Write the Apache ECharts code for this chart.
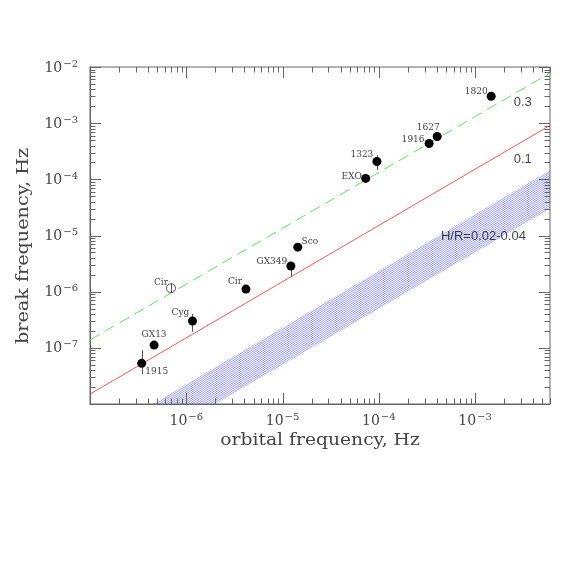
<!DOCTYPE html>
<html><head><meta charset="utf-8">
<script src="https://cdn.jsdelivr.net/npm/echarts@6/dist/echarts.min.js"></script>
<style>html,body{margin:0;padding:0;background:#fff}#c{width:581px;height:581px}</style>
</head><body><div id="c"></div>
<script>
// ---------- data ----------
const sourceNames  = ['1915', 'GX13', 'Cyg', 'Cir', 'GX349', 'Sco', 'EXO', '1323', '1916', '1627', '1820'];
const orbitalFreq  = [3.44e-7, 4.63e-7, 1.16e-6, 4.17e-6, 1.22e-5, 1.44e-5, 7.3e-5, 9.55e-5, 3.33e-4, 4.04e-4, 1.47e-3];
const breakFreq    = [5.3e-8, 1.12e-7, 3.0e-7, 1.11e-6, 2.86e-6, 6.2e-6, 1.04e-4, 2.08e-4, 4.35e-4, 5.8e-4, 3.02e-3];

const openNames    = ['Cir'];
const openOrbital  = [6.94e-7];
const openBreak    = [1.15e-6];

const errOrbital   = [3.44e-7, 1.16e-6, 1.22e-5, 9.55e-5, 6.94e-7];
const errLow       = [3.4e-8, 1.94e-7, 1.84e-6, 1.46e-4, 0.95e-6];
const errHigh      = [9.1e-8, 4.0e-7, 2.86e-6, 2.7e-4, 1.4e-6];

const hr03X = [1e-7, 6e-3];   const hr03Y = [1.38e-7, 7.8e-3];
const hr01X = [1e-7, 6e-3];   const hr01Y = [1.5e-8, 9.1e-4];
const bandX = [4.5e-7, 6e-3, 6e-3, 2e-6];
const bandY = [1e-8, 1.45e-4, 3e-5, 1e-8];

const annoText = ['0.3', '0.1', 'H/R=0.02-0.04'];
const annoX    = [3.13e-3, 3.13e-3, 1.22e-3];
const annoY    = [2.37e-3, 2.29e-4, 9.5e-6];

const xTitle = 'orbital frequency, Hz';
const yTitle = 'break frequency, Hz';

const xMin = 1e-7, xMax = 6e-3, yMin = 1e-8, yMax = 1e-2;
const xTickExps = [-7, -6, -5, -4, -3];
const yTickExps = [-8, -7, -6, -5, -4, -3, -2];
const xLabelExps = [-6, -5, -4, -3];
const yLabelExps = [-7, -6, -5, -4, -3, -2];
const minorMult = [2, 3, 4, 5, 6, 7, 8, 9];

// ---------- styling ----------
const labelOffsets = {
  '1915': [15, 8], 'GX13': [0, -10], 'Cyg': [-12, -8], 'Cir': [-11, -7], 'GX349': [-19, -4],
  'Sco': [12, -6], 'EXO': [-14, -2], '1323': [-15, -7], '1916': [-16, -4], '1627': [-9, -9], '1820': [-15, -5]
};
const openOffsets = [[-10, -6]];
const AX = '#666', TXT = '#444';
const SERIF = 'DejaVu Serif';

function expOf(v) { const e = Math.round(Math.log10(v)); return Math.abs(Math.log10(v) - e) < 1e-6 ? e : null; }
function labelFmt(allowed) {
  return function (v) {
    const e = expOf(v);
    if (e === null || allowed.indexOf(e) < 0) return '';
    return '{b|10}{s|\u2212' + Math.abs(e) + '}';
  };
}
const rich = {
  b: { fontSize: 14, fontFamily: SERIF, color: TXT, verticalAlign: 'bottom' },
  s: { fontSize: 10, fontFamily: SERIF, color: TXT, verticalAlign: 'bottom', padding: [0, 0, 6, 1] }
};

// hatch pattern
function makeHatch() {
  const W = 9, H = 6, k = 3;
  const cv = document.createElement('canvas');
  cv.width = W; cv.height = H;
  const ctx = cv.getContext('2d');
  ctx.strokeStyle = 'rgba(95,95,255,0.75)';
  ctx.lineWidth = 0.8;
  for (let s = -2; s <= 3; s++) {
    for (let j = 0; j < k; j++) {
      const c = j * H / k + s * H;
      ctx.beginPath();
      ctx.moveTo(-W, c + H);
      ctx.lineTo(2 * W, c - 2 * H);
      ctx.stroke();
    }
  }
  return cv;
}
const hatchCanvas = makeHatch();

function renderTicks(params, api) {
  const cs = params.coordSys;
  const L = cs.x, R = cs.x + cs.width, T = cs.y, B = cs.y + cs.height;
  const children = [];
  const st = { stroke: AX, lineWidth: 1 };
  const MAJ = 11, MIN = 5.5;
  function ln(x1, y1, x2, y2) { children.push({ type: 'line', shape: { x1, y1, x2, y2 }, style: st, silent: true }); }
  function xt(v, len) {
    if (v < xMin * 0.9999 || v > xMax * 1.0001) return;
    const px = Math.round(api.coord([v, yMin])[0]) + 0.5;
    ln(px, B, px, B - len); ln(px, T, px, T + len);
  }
  function yt(v, len) {
    if (v < yMin * 0.9999 || v > yMax * 1.0001) return;
    const py = Math.round(api.coord([xMin, v])[1]) + 0.5;
    ln(L, py, L + len, py); ln(R, py, R - len, py);
  }
  xTickExps.forEach(e => { const b = Math.pow(10, e); xt(b, MAJ); minorMult.forEach(m => xt(b * m, MIN)); });
  yTickExps.forEach(e => { const b = Math.pow(10, e); yt(b, MAJ); minorMult.forEach(m => yt(b * m, MIN)); });
  return { type: 'group', children };
}

function renderBand(params, api) {
  const pts = bandX.map((x, i) => api.coord([x, bandY[i]]));
  return { type: 'polygon', shape: { points: pts }, style: { fill: { image: hatchCanvas, repeat: 'repeat' }, stroke: null }, silent: true };
}

function renderErr(params, api) {
  const x = api.value(0);
  const p1 = api.coord([x, api.value(1)]);
  const p2 = api.coord([x, api.value(2)]);
  const px = Math.round(p1[0]) + 0.5;
  return { type: 'line', shape: { x1: px, y1: p1[1], x2: px, y2: p2[1] }, style: { stroke: '#555', lineWidth: 1 } };
}

const chart = echarts.init(document.getElementById('c'), null, { renderer: 'canvas' });
chart.setOption({
  animation: false,
  backgroundColor: '#fff',
  grid: { left: 90, top: 67, right: 31, bottom: 177, show: true, borderColor: AX, borderWidth: 1, backgroundColor: 'transparent' },
  graphic: [
    { type: 'text', x: 320, y: 441, scaleX: 1.17, silent: true,
      style: { text: xTitle, fontFamily: SERIF, fontSize: 16, fill: TXT, align: 'center', verticalAlign: 'middle' } },
    { type: 'text', x: 24, y: 246, rotation: Math.PI / 2, scaleX: 1.2, silent: true,
      style: { text: yTitle, fontFamily: SERIF, fontSize: 16, fill: TXT, align: 'center', verticalAlign: 'middle' } }
  ],
  xAxis: {
    type: 'log', logBase: 10, min: xMin, max: xMax,
    axisLine: { show: true, lineStyle: { color: AX } },
    axisTick: { show: false }, splitLine: { show: false }, minorTick: { show: false },
    axisLabel: { margin: 8, formatter: labelFmt(xLabelExps), rich: rich, hideOverlap: false, showMinLabel: true, showMaxLabel: true }
  },
  yAxis: {
    type: 'log', logBase: 10, min: yMin, max: yMax,
    axisLine: { show: true, lineStyle: { color: AX } },
    axisTick: { show: false }, splitLine: { show: false }, minorTick: { show: false },
    axisLabel: { margin: 12, formatter: labelFmt(yLabelExps), rich: rich, hideOverlap: false, showMinLabel: true, showMaxLabel: true }
  },
  series: [
    { type: 'custom', name: 'band', renderItem: renderBand, data: [[1e-6, 1e-6]], silent: true, z: 1 },
    { type: 'line', name: 'hr01', data: hr01X.map((x, i) => [x, hr01Y[i]]), showSymbol: false, symbol: 'none',
      lineStyle: { color: '#ff5555', width: 1 }, silent: true, z: 2 },
    { type: 'line', name: 'hr03', data: hr03X.map((x, i) => [x, hr03Y[i]]), showSymbol: false, symbol: 'none',
      lineStyle: { color: '#55ee55', width: 1, type: [11, 6] }, silent: true, z: 2 },
    { type: 'custom', name: 'err', renderItem: renderErr, data: errOrbital.map((x, i) => [x, errLow[i], errHigh[i]]), silent: true, z: 3 },
    { type: 'scatter', name: 'src', symbol: 'circle', symbolSize: 9, itemStyle: { color: '#000', opacity: 1 }, z: 4,
      data: sourceNames.map((n, i) => ({ value: [orbitalFreq[i], breakFreq[i]], name: n,
        label: { offset: labelOffsets[n] } })),
      label: { show: true, position: 'inside', formatter: p => p.name, fontFamily: SERIF, fontSize: 9, color: TXT } },
    { type: 'scatter', name: 'open', symbol: 'circle', symbolSize: 9, z: 4,
      itemStyle: { color: 'transparent', borderColor: '#555', borderWidth: 1, opacity: 1 },
      data: openNames.map((n, i) => ({ value: [openOrbital[i], openBreak[i]], name: n, label: { offset: openOffsets[i] } })),
      label: { show: true, position: 'inside', formatter: p => p.name, fontFamily: SERIF, fontSize: 9, color: TXT } },
    { type: 'scatter', name: 'anno', symbolSize: 0, z: 5, silent: true,
      data: annoText.map((t, i) => ({ value: [annoX[i], annoY[i]], name: t })),
      label: { show: true, position: 'inside', formatter: p => p.name, fontFamily: 'Liberation Sans', fontSize: 13, color: '#111' } },
    { type: 'custom', name: 'ticks', renderItem: renderTicks, data: [[1e-6, 1e-6]], silent: true, z: 6 }
  ]
});
</script></body></html>
